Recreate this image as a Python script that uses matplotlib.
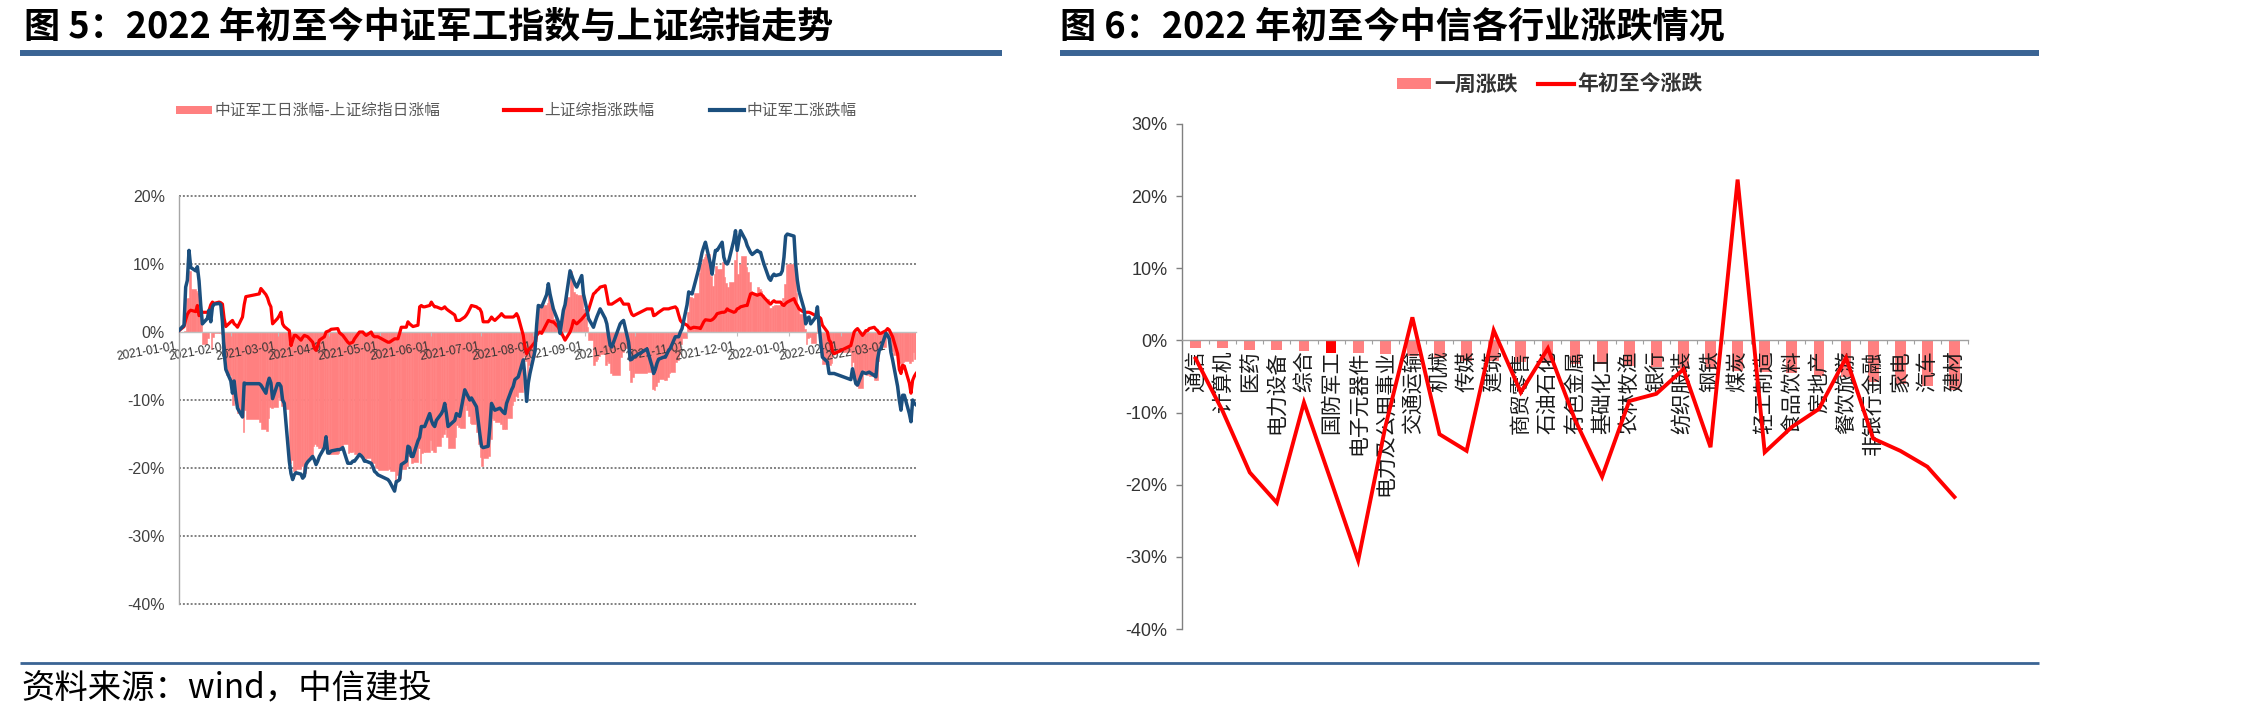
import numpy as np
import pandas as pd
import matplotlib
matplotlib.use('Agg')
import matplotlib.pyplot as plt
import matplotlib.dates as mdates
from matplotlib.patches import Rectangle
from matplotlib.lines import Line2D
from matplotlib.transforms import ScaledTranslation

plt.rcParams['font.family'] = ['Noto Sans CJK SC', 'DejaVu Sans']
plt.rcParams['axes.unicode_minus'] = False

# ------------------------------------------------------------------ data (left chart)
# trading calendar: weekdays from the base date (2020-12-31) to 2022-03-18, minus exchange holidays
BASE_DATE = '2020-12-31'
LAST_DATE = '2022-03-18'
TRADING_HOLIDAYS = ['2021-01-01', '2021-02-11', '2021-02-12', '2021-02-15', '2021-02-16', '2021-02-17',
                    '2021-04-05', '2021-05-03', '2021-05-04', '2021-05-05', '2021-06-14',
                    '2021-09-20', '2021-09-21', '2021-10-01', '2021-10-04', '2021-10-05', '2021-10-06',
                    '2021-10-07', '2022-01-03', '2022-01-31', '2022-02-01', '2022-02-02', '2022-02-03',
                    '2022-02-04']

# 中证军工涨跌幅 (%), first value = base date
JUNGONG = [0.0,
    1.0, 6.6, 7.6, 12.0, 9.5, 9.0, 9.6, 7.5, 4.0, 1.2, 2.0, 3.2, 1.5, 3.7, 4.1, 4.2, 4.0, 1.5, -3.0, -5.5,
    -7.2, -9.0, -7.2, -9.5, -11.2, -12.5, -7.5, -7.6, -7.6, -7.8, -9.0, -7.6, -6.8, -7.5, -9.8,
    -7.6, -7.6, -8.0, -10.0, -10.5, -19.0, -20.8, -21.7, -21.0, -20.7, -20.9, -21.5, -21.2, -19.5, -19.1,
    -18.3, -18.8, -19.5, -19.0, -18.3, -17.0, -15.4, -17.8,
    -17.8, -17.5, -17.3, -17.3, -17.2, -17.0, -19.3, -19.3, -19.3, -19.0, -19.0, -18.0, -18.2, -18.5,
    -19.0, -19.0, -19.3, -19.8, -20.5, -20.7, -21.0,
    -21.7, -22.0, -23.4, -22.0, -21.9, -21.7, -19.5, -19.0, -16.8, -17.0, -18.3, -18.3, -16.0, -15.5,
    -13.9, -13.9, -13.9, -12.0,
    -13.0, -13.6, -13.9, -13.0, -12.0, -11.5, -10.5, -12.0, -13.9, -13.0, -12.0, -12.2, -12.4, -8.5,
    -9.0, -9.5, -10.0, -9.7, -11.0, -13.0, -15.0,
    -16.8, -17.0, -16.8, -14.0, -10.5, -11.0, -11.5, -11.2, -11.5, -11.8, -12.0, -10.5, -8.5, -8.0,
    -7.0, -6.8, -6.6, -4.1, -6.5, -10.2, -7.5, -6.1,
    -2.8, 1.0, 3.9, 3.8, 3.7, 5.5, 7.1, 5.6, 4.5, 3.4, 1.5, -0.2, 1.5, 3.2, 4.0, 9.0, 8.3, 7.6, 7.0,
    6.6, 8.3, 5.6,
    4.5, 3.4, 2.0, 0.7, 1.5, 2.2, 2.8, 3.4, 2.0, 1.2, -0.5, -2.0, -2.2, 1.2, 1.5, 1.7, -1.5, -4.1, -4.0, -3.7,
    -2.5, -5.0, -6.1, -5.5, -4.6, -4.0, -3.7, -3.7, -3.2, -2.7, -2.4, -0.7, -0.7, -0.7, 0.0, 0.5,
    4.0, 5.9, 5.7, 5.6, 6.5, 9.3, 10.5, 11.7, 12.5, 13.2, 10.0, 8.5, 10.5, 12.0, 12.0, 13.2, 11.0, 10.2,
    10.0, 10.5, 13.5, 14.9,
    12.0, 13.5, 14.9, 13.5, 12.7, 12.2, 11.7, 11.4, 12.0, 11.8, 11.7, 10.8, 10.0, 7.9, 7.6, 8.2, 8.5,
    8.3, 8.5, 9.0, 11.0, 14.1, 14.4,
    14.1, 10.0, 7.6, 6.0, 3.4, 1.2, 2.0, 2.2, 1.2, 2.2, 3.7, 1.0, -1.5, -3.7, -4.4, -6.1, -6.1, -6.1, -6.1,
    -7.0, -5.4, -6.5, -7.6, -7.8, -5.9, -6.0, -6.1, -6.0, -5.9, -6.4, -6.6, -4.0, -2.7, -2.4, -0.2,
    -0.5, -1.0, -3.0, -4.1, -8.0, -10.0, -11.5, -9.3, -9.3, -12.0, -13.2, -10.0, -10.5, -10.7]

# 上证综指涨跌幅 (%)
SHANGZHENG = [0.0,
    0.8, 1.8, 2.6, 3.0, 3.2, 3.0, 3.9, 2.4, 2.7, 2.9, 2.9, 3.2, 4.0, 4.4, 4.2, 4.4, 4.3, 4.1, 2.0, 0.8,
    1.5, 1.7, 1.2, 1.0, 0.7, 2.2, 4.0, 5.2, 5.6, 6.4, 5.5, 5.0, 4.2, 3.7, 1.2,
    2.0, 2.4, 2.9, 1.2, 0.8, 0.2, -2.0, -1.2, -0.5, -0.5, -1.2, -0.8, -0.5, -0.6, -0.7, -1.5, -2.4,
    -2.7, -2.0, -1.2, -0.7, 0.0, 0.1,
    0.2, 0.4, 0.5, -0.1, -0.3, -0.5, -1.5, -1.7, -1.6, -1.5, -1.0, 0.0, 0.0, 0.0, -0.3, -0.5, 0.0,
    -0.5, -0.7, -0.7, -0.7,
    -1.5, -1.5, -1.0, -1.0, -1.0, -0.2, 0.7, 0.7, 1.5, 1.2, 1.0, 0.8, 1.0, 3.7, 3.9, 3.7, 3.7, 3.9,
    4.4, 4.0, 3.7, 3.7, 3.4, 3.5, 3.7, 3.4, 3.2, 2.5, 1.7, 1.7, 1.7, 2.2, 2.5, 2.9, 3.4, 3.9, 3.7, 3.5, 3.4,
    2.9, 1.5, 1.5, 1.8, 2.2, 1.9, 1.7, 2.4, 2.7, 2.4, 2.2, 2.2, 2.2, 2.2, 2.4, 2.7, 2.2, -0.5, -2.2,
    -3.2, -2.6, -2.4,
    -1.5, -0.5, -0.2, 0.0, -0.2, 1.2, 1.7, 1.6, 1.5, 1.5, 0.7, 0.2, -0.2, -0.7, -1.2, 0.0, 0.7, 1.7,
    1.4, 1.2, 1.9, 2.2,
    2.5, 2.7, 3.2, 5.6, 5.8, 6.1, 6.3, 6.6, 6.8, 5.5, 4.1, 4.1, 4.1, 4.9, 4.5, 4.1, 4.1, 3.2, 2.6, 2.4,
    3.4, 3.4, 2.4, 2.5, 2.7, 2.9, 3.4, 3.4, 3.4, 3.4, 3.5, 3.7, 3.4, 2.5, 1.7, 1.4,
    1.0, 0.7, 0.5, 0.6, 0.7, 0.6, 0.5, 1.0, 1.5, 1.8, 1.7, 1.8, 2.0, 2.3, 2.7, 2.9, 2.9, 3.0, 3.4, 3.2,
    2.9, 3.0,
    3.4, 3.5, 3.7, 3.9, 3.9, 4.8, 5.6, 5.7, 5.4, 5.5, 5.6, 5.4, 5.1, 4.3, 4.1, 4.4, 4.6, 4.4, 4.4, 4.0,
    3.9, 4.2, 4.4,
    4.9, 4.3, 3.9, 3.4, 2.9, 2.9, 2.9, 2.9, 2.8, 2.4, 2.2, 2.2, 2.0, 1.0, 0.0, -1.2, -1.5, -2.8, -3.2,
    -2.0, -1.0, 0.0, 0.3, 0.5, -0.5, -0.2, 0.2, 0.2, 0.5, 0.7, 0.4, 0.2, -0.2, -0.2, 0.2,
    0.5, 0.3, -0.2, -0.7, -3.2, -5.5, -6.1, -4.9, -5.0, -7.5, -9.0, -7.1, -6.5, -6.1]

# 中证军工日涨幅-上证综指日涨幅 (cumulated, %)
EXCESS = [0.0,
    0.2, 4.8, 5.0, 9.0, 6.3, 6.0, 5.7, 5.1, 1.3, -1.7, -0.9, 0.0, -2.5, -0.7, -0.1, -0.2, -0.3, -2.6, -5.0, -6.3,
    -8.7, -10.7, -8.4, -10.5, -11.9, -14.7, -11.5, -12.8, -13.2, -14.2, -14.5, -12.6, -11.0, -11.2, -11.0,
    -9.6, -10.0, -10.9, -11.2, -11.3, -19.2, -18.8, -20.5, -20.5, -20.2, -19.7, -20.7, -20.7, -18.9,
    -18.4, -16.8, -16.4, -16.8, -17.0, -17.1, -16.3, -15.4, -17.9,
    -18.0, -17.9, -17.8, -17.2, -16.9, -16.5, -17.8, -17.6, -17.7, -17.5, -18.0, -18.0, -18.2, -18.5,
    -18.7, -18.5, -19.3, -19.3, -19.8, -20.0, -20.3,
    -20.2, -20.5, -22.4, -21.0, -20.9, -21.5, -20.2, -19.7, -18.3, -18.2, -19.3, -19.1, -17.0, -19.2,
    -17.8, -17.6, -17.6, -15.9,
    -17.4, -17.6, -17.6, -16.7, -15.4, -15.0, -14.2, -15.4, -17.1, -15.5, -13.7, -13.9, -14.1, -10.7,
    -11.5, -12.4, -13.4, -13.6, -14.7, -16.5, -18.4,
    -19.7, -18.5, -18.3, -15.8, -12.7, -12.9, -13.2, -13.6, -14.2, -14.2, -14.2, -12.7, -10.7, -10.2,
    -9.4, -9.5, -8.8, -3.6, -4.3, -7.0, -4.9, -3.7,
    -1.3, 1.5, 4.1, 3.8, 3.9, 4.3, 5.4, 4.0, 3.0, 1.9, 0.8, -0.4, 1.7, 3.9, 5.2, 9.0, 7.6, 5.9, 5.6,
    5.4, 6.4, 3.4,
    2.0, 0.7, -1.2, -4.9, -4.3, -3.9, -3.5, -3.2, -4.8, -4.3, -4.6, -6.1, -6.3, -3.7, -3.0, -2.4, -5.6,
    -7.3, -6.6, -6.1,
    -5.9, -8.4, -8.5, -8.0, -7.3, -6.9, -7.1, -7.1, -6.6, -6.1, -5.9, -4.4, -4.1, -3.2, -1.7, -0.9,
    3.0, 5.2, 5.2, 5.0, 5.8, 8.7, 10.0, 10.7, 11.0, 11.4, 8.3, 6.7, 8.5, 9.7, 9.3, 10.3, 8.1, 7.2, 6.6,
    7.3, 10.6, 11.9,
    8.6, 10.0, 11.2, 9.6, 8.8, 7.4, 6.1, 5.7, 6.6, 6.3, 6.1, 5.4, 4.9, 3.6, 3.5, 3.8, 3.9, 3.9, 4.1,
    5.0, 7.1, 9.9, 10.0,
    9.2, 5.7, 3.7, 2.6, 0.5, -1.7, -0.9, -0.7, -1.6, -0.2, 1.5, -1.2, -3.5, -4.7, -4.4, -4.9, -4.6, -3.3, -2.9,
    -5.0, -4.4, -6.5, -7.9, -8.3, -5.4, -5.8, -6.3, -6.2, -6.4, -7.1, -7.0, -4.2, -2.5, -2.2, -0.4,
    -1.0, -1.3, -2.8, -3.4, -4.8, -4.5, -5.4, -4.4, -4.3, -4.5, -4.2, -2.9, -4.0, -4.6]

MONTH_TICKS = ['2021-01-01', '2021-02-01', '2021-03-01', '2021-04-01', '2021-05-01', '2021-06-01',
               '2021-07-01', '2021-08-01', '2021-09-01', '2021-10-01', '2021-11-01', '2021-12-01',
               '2022-01-01', '2022-02-01', '2022-03-01']
LEFT_Y_TICKS = [20, 10, 0, -10, -20, -30, -40]
LEFT_Y_LABELS = ['20%', '10%', '0%', '-10%', '-20%', '-30%', '-40%']

# ------------------------------------------------------------------ data (right chart)
INDUSTRIES = ['通信', '计算机', '医药', '电力设备', '综合', '国防军工', '电子元器件', '电力及公用事业',
              '交通运输', '机械', '传媒', '建筑', '商贸零售', '石油石化', '有色金属', '基础化工',
              '农林牧渔', '银行', '纺织服装', '钢铁', '煤炭', '轻工制造', '食品饮料', '房地产',
              '餐饮旅游', '非银行金融', '家电', '汽车', '建材']
WEEK_CHG = [-1.1, -1.1, -1.3, -1.3, -1.5, -1.7, -1.7, -1.9, -2.1, -2.5, -2.8, -2.8, -3.0, -3.1, -3.2,
            -3.2, -3.5, -3.7, -3.9, -3.9, -4.2, -4.4, -4.5, -4.9, -5.1, -5.8, -6.0, -6.3, -6.9]
YTD_CHG = [-2.5, -9.8, -18.3, -22.5, -8.6, -19.5, -30.5, -12.0, 3.2, -13.0, -15.3, 1.4, -7.2, -1.1,
           -11.0, -18.9, -8.4, -7.4, -4.0, -14.8, 22.3, -15.5, -12.0, -9.5, -2.4, -13.6, -15.3, -17.5, -21.7]
RIGHT_Y_TICKS = [30, 20, 10, 0, -10, -20, -30, -40]
RIGHT_Y_LABELS = ['30%', '20%', '10%', '0%', '-10%', '-20%', '-30%', '-40%']
HIGHLIGHT = '国防军工'

# ------------------------------------------------------------------ figure
W, H = 2244, 718
fig = plt.figure(figsize=(W / 100, H / 100), dpi=100)
fig.patch.set_facecolor('white')


def fx(x):
    return x / W


def fy(y):
    return 1 - y / H


PINK = '#FF8080'
RED = '#FF0000'
BLUE = '#1B4F7E'
RULE = '#3A6494'
LATIN = 'Liberation Sans'

# titles and rules
fig.text(fx(24), fy(27), '图 5：2022 年初至今中证军工指数与上证综指走势', fontsize=26,
         fontweight='bold', va='center', ha='left', color='black')
fig.text(fx(1060), fy(27), '图 6：2022 年初至今中信各行业涨跌情况', fontsize=26,
         fontweight='bold', va='center', ha='left', color='black')
fig.add_artist(Line2D([fx(20), fx(1002)], [fy(53), fy(53)], transform=fig.transFigure,
                      color=RULE, lw=4.3, solid_capstyle='butt'))
fig.add_artist(Line2D([fx(1060), fx(2039)], [fy(53), fy(53)], transform=fig.transFigure,
                      color=RULE, lw=4.3, solid_capstyle='butt'))
fig.add_artist(Line2D([fx(20), fx(2039)], [fy(663), fy(663)], transform=fig.transFigure,
                      color=RULE, lw=2.0, solid_capstyle='butt'))
fig.text(fx(21), fy(688), '资料来源：wind，中信建投', fontsize=24, va='center', ha='left',
         color='black', style='italic')

# ------------------------------------------------------------------ left chart
dates = pd.bdate_range(BASE_DATE, LAST_DATE)
dates = dates[~dates.isin(pd.to_datetime(TRADING_HOLIDAYS))]
assert len(dates) == len(JUNGONG) == len(SHANGZHENG) == len(EXCESS)
xnum = mdates.date2num(dates.to_pydatetime())
widths = np.append(np.diff(xnum), 1.0)

axL = fig.add_axes([fx(179), fy(604), fx(916) - fx(179), (604 - 196) / H])
axL.set_facecolor('none')
axL.bar(xnum, EXCESS, width=widths, align='edge', color=PINK, edgecolor=PINK, linewidth=0.4, zorder=1)
axL.plot(xnum, SHANGZHENG, color=RED, lw=2.3, zorder=3, solid_joinstyle='round')
axL.plot(xnum, JUNGONG, color=BLUE, lw=2.5, zorder=4, solid_joinstyle='round')
for v in [20, 10, -10, -20, -30, -40]:
    axL.axhline(v, color='#808080', lw=1.4, ls=(0, (1, 1)), zorder=0.5, clip_on=False)

axL.set_xlim(mdates.date2num(pd.Timestamp('2021-01-01')), mdates.date2num(pd.Timestamp(LAST_DATE)))
axL.set_ylim(-40, 20)
axL.set_axisbelow('line')
for s in ['top', 'right']:
    axL.spines[s].set_visible(False)
axL.spines['left'].set_color('#A6A6A6')
axL.spines['left'].set_linewidth(1.0)
axL.spines['bottom'].set_position(('data', 0))
axL.spines['bottom'].set_color('#BFBFBF')
axL.spines['bottom'].set_linewidth(1.0)

axL.set_yticks(LEFT_Y_TICKS)
axL.set_yticklabels(LEFT_Y_LABELS)
axL.tick_params(axis='y', length=0, pad=10, labelsize=11.5, labelcolor='#404040')
for t in axL.get_yticklabels():
    t.set_fontfamily(LATIN)

xt = mdates.date2num(pd.to_datetime(MONTH_TICKS).to_pydatetime())
axL.set_xticks(xt)
axL.set_xticklabels(MONTH_TICKS, rotation=10, ha='right', rotation_mode='anchor')
axL.tick_params(axis='x', length=3, width=0.8, color='#BFBFBF', pad=3, labelsize=8.6,
                labelcolor='#333333')
offset = ScaledTranslation(-3 / 100, 0, fig.dpi_scale_trans)
for t in axL.get_xticklabels():
    t.set_fontfamily(LATIN)
    t.set_transform(t.get_transform() + offset)

# left legend (manual)
fig.add_artist(Rectangle((fx(176), fy(114)), fx(212) - fx(176), 8 / H, transform=fig.transFigure,
                         facecolor=PINK, edgecolor='none'))
fig.text(fx(215), fy(110), '中证军工日涨幅-上证综指日涨幅', fontsize=11.3, color='#595959',
         va='center', ha='left')
fig.add_artist(Line2D([fx(504), fx(541)], [fy(110), fy(110)], transform=fig.transFigure,
                      color=RED, lw=3.0))
fig.text(fx(544), fy(110), '上证综指涨跌幅', fontsize=11.3, color='#595959', va='center', ha='left')
fig.add_artist(Line2D([fx(710), fx(744)], [fy(110), fy(110)], transform=fig.transFigure,
                      color=BLUE, lw=3.0))
fig.text(fx(747), fy(110), '中证军工涨跌幅', fontsize=11.3, color='#595959', va='center', ha='left')

# ------------------------------------------------------------------ right chart
axR = fig.add_axes([fx(1182), fy(629), fx(1968) - fx(1182), (629 - 124) / H])
axR.set_facecolor('none')
xi = np.arange(len(INDUSTRIES))
bar_colors = [RED if n == HIGHLIGHT else PINK for n in INDUSTRIES]
axR.bar(xi, WEEK_CHG, width=0.4, color=bar_colors, zorder=1)
axR.plot(xi, YTD_CHG, color=RED, lw=2.8, zorder=3, solid_joinstyle='miter')
axR.set_xlim(-0.5, len(INDUSTRIES) - 0.5)
axR.set_ylim(-40, 30)
axR.set_axisbelow('line')
for s in ['top', 'right']:
    axR.spines[s].set_visible(False)
axR.spines['left'].set_color('#808080')
axR.spines['left'].set_linewidth(1.0)
axR.spines['bottom'].set_position(('data', 0))
axR.spines['bottom'].set_color('#A0A0A0')
axR.spines['bottom'].set_linewidth(1.0)

axR.set_yticks(RIGHT_Y_TICKS)
axR.set_yticklabels(RIGHT_Y_LABELS)
axR.tick_params(axis='y', length=4.3, width=1.0, color='#808080', pad=6, labelsize=13,
                labelcolor='#333333')
for t in axR.get_yticklabels():
    t.set_fontfamily(LATIN)

axR.set_xticks(xi)
axR.set_xticklabels(INDUSTRIES, rotation=90, ha='center', va='top')
axR.set_xticks(np.arange(-0.5, len(INDUSTRIES), 1.0), minor=True)
axR.tick_params(axis='x', which='major', length=0, pad=7, labelsize=15, labelcolor='#1a1a1a')
axR.tick_params(axis='x', which='minor', length=3, width=0.8, color='#A0A0A0')

# right legend (manual)
fig.add_artist(Rectangle((fx(1397), fy(89)), fx(1431) - fx(1397), 11 / H, transform=fig.transFigure,
                         facecolor=PINK, edgecolor='none'))
fig.text(fx(1434), fy(84), '一周涨跌', fontsize=15, fontweight='bold', color='#333333',
         va='center', ha='left')
fig.add_artist(Line2D([fx(1538), fx(1574)], [fy(84), fy(84)], transform=fig.transFigure,
                      color=RED, lw=3.0))
fig.text(fx(1577), fy(84), '年初至今涨跌', fontsize=15, fontweight='bold', color='#333333',
         va='center', ha='left')

fig.savefig('out.png', dpi=100, facecolor='white')
